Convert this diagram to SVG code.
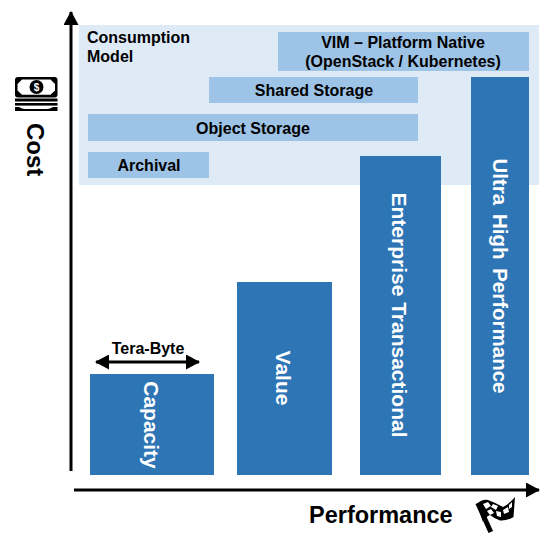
<svg xmlns="http://www.w3.org/2000/svg" width="556" height="545" viewBox="0 0 556 545">
<style>
text{font-family:"Liberation Sans",Arial,sans-serif;font-weight:bold;fill:#000}
.bar{fill:#2e75b6}
.lay{fill:#9dc3e6}
.w{fill:#fff;font-size:21px;text-anchor:middle}
.k{font-size:16px;text-anchor:middle}
.ax{stroke:#000;stroke-width:3;fill:none}
</style>
<defs>
<marker id="ah" markerUnits="userSpaceOnUse" markerWidth="15" markerHeight="15" refX="13" refY="7.5" orient="auto-start-reverse"><path d="M0 0L14 7.5L0 15Z" fill="#000"/></marker>
</defs>
<rect x="0" y="0" width="556" height="545" fill="#fff"/>
<g id="consumption-panel">
<rect x="79" y="25" width="460" height="160" fill="#deeaf6"/>
<text x="87" y="43" font-size="16">Consumption</text>
<text x="87" y="62" font-size="16">Model</text>
</g>
<g id="vim"><rect class="lay" x="278" y="32" width="251" height="39"/>
<text class="k" x="403" y="48">VIM – Platform Native</text>
<text class="k" x="403" y="67">(OpenStack / Kubernetes)</text></g>
<g id="shared-storage"><rect class="lay" x="209" y="77" width="209" height="26"/>
<text class="k" x="314" y="96">Shared Storage</text></g>
<g id="object-storage"><rect class="lay" x="88" y="114" width="330" height="27"/>
<text class="k" x="253" y="134">Object Storage</text></g>
<g id="archival"><rect class="lay" x="88" y="152" width="121" height="26"/>
<text class="k" x="149" y="171">Archival</text></g>
<g id="capacity"><rect class="bar" x="90" y="374" width="124" height="101"/>
<text class="w" transform="translate(144 425) rotate(90)">Capacity</text></g>
<g id="value"><rect class="bar" x="237" y="282" width="95" height="193"/>
<text class="w" transform="translate(276 378) rotate(90)">Value</text></g>
<g id="enterprise"><rect class="bar" x="360" y="156" width="81" height="319"/>
<text class="w" transform="translate(392 315) rotate(90)">Enterprise Transactional</text></g>
<g id="ultra"><rect class="bar" x="471" y="77" width="58" height="398"/>
<text class="w" transform="translate(493 276) rotate(90)" style="font-size:20.5px" word-spacing="3">Ultra High Performance</text></g>
<g id="connectors">
<line class="ax" x1="71" y1="471" x2="71" y2="12" marker-end="url(#ah)"/>
<line class="ax" x1="74" y1="490" x2="539" y2="490" marker-end="url(#ah)"/>
<line class="ax" x1="96" y1="362" x2="199" y2="362" marker-start="url(#ah)" marker-end="url(#ah)"/>
</g>
<g id="tera-byte"><text class="k" x="148" y="354">Tera-Byte</text></g>
<g id="cost-label">
<rect x="15" y="77" width="42.5" height="20.5" rx="3" fill="#000"/>
<path d="M22 79.5H50.5L55 84V90.5L50.5 94.8H22L17.5 90.5V84Z" fill="#fff"/>
<circle cx="36.5" cy="87" r="7" fill="#000"/>
<text x="36.5" y="90.5" font-size="10" text-anchor="middle" style="fill:#fff">$</text>
<rect x="15" y="98.5" width="42.5" height="3" fill="#000"/>
<rect x="15" y="103" width="42.5" height="2.6" fill="#000"/>
<path d="M15 107V111H57.5V107H53Q50 109 47 109H25Q22 109 19 107Z" fill="#000"/>
<text transform="translate(27 123) rotate(90)" font-size="24">Cost</text>
</g>
<g id="performance-label">
<text x="309" y="523" font-size="23.5">Performance</text>
<path d="M475.5 504L480 502L493 531L488.5 533Z" fill="#000"/>
<path d="M477 504Q482 499 488 500Q496 503 503 507Q509 504 515 497L513.5 517Q507 521 500 520.5Q495 519 490 515Q485 517 483 522Z" fill="#000"/>
<path d="M483 504l5-2 3 4-5 3zM493 504l5 2-2 4-5-3zM503 510l5-3 1 5-5 2zM487 511l4-2 3 4-4 2zM496 511l5 1 0 5-4-1zM509 505l3-3 0 5-3 2z" fill="#fff"/>
</g>
</svg>
